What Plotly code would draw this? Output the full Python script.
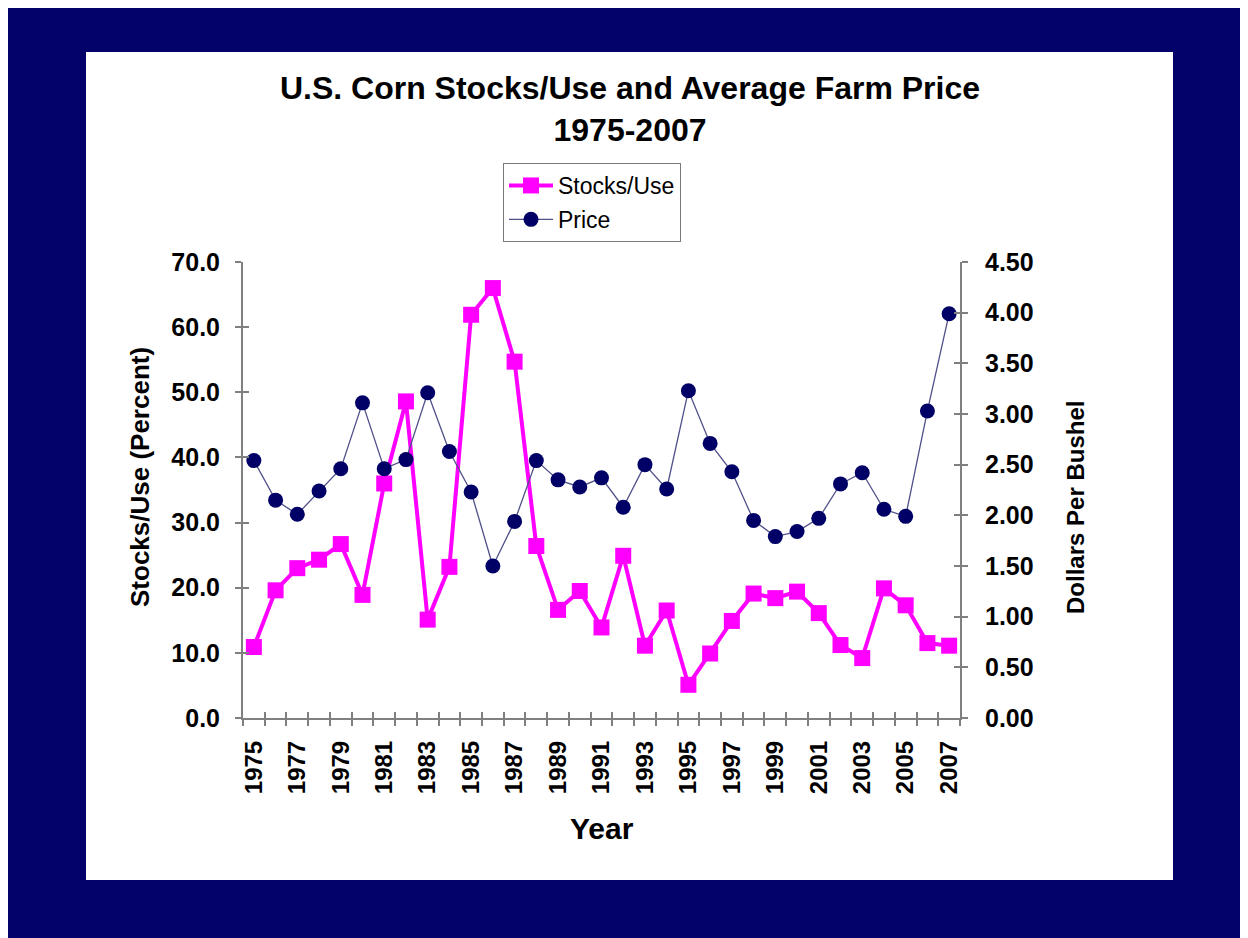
import plotly.graph_objects as go

# data
years = list(range(1975, 2008))
stocks_use = [10.9, 19.6, 23.0, 24.3, 26.7, 18.9, 36.0, 48.6, 15.1, 23.2,
              61.9, 66.0, 54.7, 26.4, 16.6, 19.5, 13.9, 24.9, 11.1, 16.5,
              5.1, 9.9, 14.9, 19.1, 18.4, 19.4, 16.1, 11.2, 9.2, 19.9,
              17.3, 11.5, 11.1]
price = [2.54, 2.15, 2.01, 2.24, 2.46, 3.11, 2.46, 2.55, 3.21, 2.63,
         2.23, 1.50, 1.94, 2.54, 2.35, 2.28, 2.37, 2.08, 2.50, 2.26,
         3.23, 2.71, 2.43, 1.95, 1.79, 1.84, 1.97, 2.31, 2.42, 2.06,
         1.99, 3.03, 3.99]
label_years = years[::2]
label_text = [str(y) for y in label_years]
boundaries = [y - 0.5 for y in years] + [years[-1] + 0.5]

# page geometry, in screenshot pixels (the page body adds an 8px offset)
OFF = 8
W, H = 1248, 938
L, R, T, B = 243, 960, 262, 718
NAVY = "#02026a"
GRAY = "#808080"
FONT = "Liberation Sans, Arial, sans-serif"


def px_x(px):
    return (px - L) / (R - L)


def px_y(py):
    return (B - py) / (B - T)


fig = go.Figure()

fig.add_trace(go.Scatter(
    x=years, y=stocks_use, name="Stocks/Use", mode="lines+markers",
    line=dict(color="#ff00ff", width=4),
    marker=dict(symbol="square", size=16, color="#ff00ff"),
    legendgroup="a",
))
fig.add_trace(go.Scatter(
    x=years, y=price, name="Price", mode="lines+markers", yaxis="y2",
    line=dict(color="#50508a", width=1.3),
    marker=dict(symbol="circle", size=15, color="#000066"),
    legendgroup="b",
))
# empty traces so the overlay axes (inner halves of crossing ticks, labels) get drawn
for xa, ya in [("x2", "y"), ("x3", "y"), ("x", "y3"), ("x", "y4")]:
    fig.add_trace(go.Scatter(x=[], y=[], xaxis=xa, yaxis=ya,
                             showlegend=False, hoverinfo="skip"))

xrange = [years[0] - 0.5, years[-1] + 0.5]
tick_common = dict(ticklen=6, tickwidth=1.5, tickcolor=GRAY)

fig.update_layout(
    width=W, height=H,
    margin=dict(l=L - OFF, r=W - R + OFF, t=T - OFF, b=H - B + OFF, pad=0),
    paper_bgcolor=NAVY,
    plot_bgcolor="white",
    font=dict(family=FONT, color="black"),
    title=dict(
        text="<b>U.S. Corn Stocks/Use and Average Farm Price<br>1975-2007</b>",
        font=dict(size=32, family=FONT, color="black"),
        xref="paper", x=px_x(630), xanchor="center",
        yref="container", y=1 - (99 - OFF) / H, yanchor="middle",
    ),
    xaxis=dict(
        range=xrange, tickmode="array", tickvals=boundaries,
        showticklabels=False, ticks="outside", **tick_common,
        showline=True, linecolor=GRAY, linewidth=2,
        showgrid=False, zeroline=False,
    ),
    xaxis2=dict(
        overlaying="x", anchor="y", side="bottom", range=xrange,
        tickmode="array", tickvals=label_years, ticktext=label_text,
        tickangle=-90, ticks="", ticklabelstandoff=17,
        tickfont=dict(size=24, family=FONT, weight="bold", color="black"),
        showline=False, showgrid=False, zeroline=False,
    ),
    xaxis3=dict(
        overlaying="x", anchor="y", side="bottom", range=xrange,
        tickmode="array", tickvals=boundaries, showticklabels=False,
        ticks="inside", **tick_common,
        showline=False, showgrid=False, zeroline=False,
    ),
    yaxis=dict(
        range=[0, 70], dtick=10, tickformat=".1f", ticks="outside",
        **tick_common, ticklabelstandoff=10,
        tickfont=dict(size=25, family=FONT, weight="bold", color="black"),
        showline=True, linecolor=GRAY, linewidth=2,
        showgrid=False, zeroline=False,
    ),
    yaxis2=dict(
        overlaying="y", side="right", range=[0, 4.5], dtick=0.5,
        tickformat=".2f", ticks="outside", **tick_common,
        ticklabelstandoff=12,
        tickfont=dict(size=25, family=FONT, weight="bold", color="black"),
        showline=True, linecolor=GRAY, linewidth=2,
        showgrid=False, zeroline=False,
    ),
    yaxis3=dict(
        overlaying="y", side="left", range=[0, 70], dtick=10,
        ticks="inside", **tick_common, showticklabels=False,
        showline=False, showgrid=False, zeroline=False,
    ),
    yaxis4=dict(
        overlaying="y", side="right", range=[0, 4.5], dtick=0.5,
        ticks="inside", **tick_common, showticklabels=False,
        showline=False, showgrid=False, zeroline=False,
    ),
    legend=dict(
        x=px_x(503), y=px_y(163), xanchor="left", yanchor="top",
        bgcolor="white", bordercolor="#7a7a7a", borderwidth=1,
        font=dict(size=23, family=FONT, color="black"),
        traceorder="grouped", tracegroupgap=1, itemwidth=44,
    ),
    showlegend=True,
)

# white slide panel
fig.add_shape(type="rect", xref="paper", yref="paper", layer="below",
              x0=px_x(86), x1=px_x(1173), y0=px_y(880), y1=px_y(52),
              fillcolor="white", line=dict(width=0))

# axis titles
fig.add_annotation(text="<b>Year</b>", xref="paper", yref="paper",
                   x=px_x(602), y=px_y(828), showarrow=False,
                   xanchor="center", yanchor="middle",
                   font=dict(size=30, family=FONT, color="black"))
fig.add_annotation(text="<b>Stocks/Use (Percent)</b>", xref="paper", yref="paper",
                   x=px_x(140), y=px_y(477), textangle=-90, showarrow=False,
                   xanchor="center", yanchor="middle",
                   font=dict(size=26, family=FONT, color="black"))
fig.add_annotation(text="<b>Dollars Per Bushel</b>", xref="paper", yref="paper",
                   x=px_x(1075), y=px_y(508), textangle=-90, showarrow=False,
                   xanchor="center", yanchor="middle",
                   font=dict(size=24, family=FONT, color="black"))

fig.write_html("out.html")
